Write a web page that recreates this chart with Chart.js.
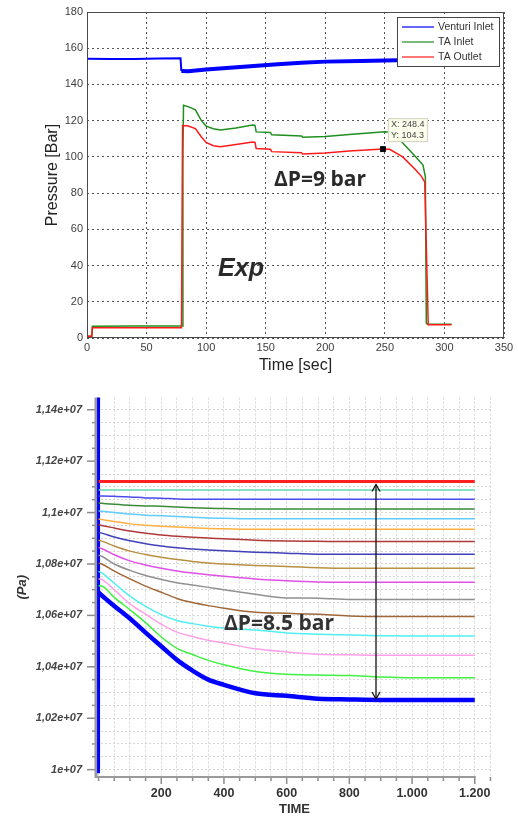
<!DOCTYPE html>
<html>
<head>
<meta charset="utf-8">
<script src="https://cdn.jsdelivr.net/npm/chart.js@4.4.0/dist/chart.umd.min.js"></script>
<style>
  html, body { margin: 0; padding: 0; background: #fff; }
  canvas { display: block; }
</style>
</head>
<body>
<canvas id="expChart" width="518" height="376"></canvas>
<canvas id="simChart" width="518" height="440"></canvas>
<script>
// ---- experiment (top) ----
const ventT = [0, 20, 40, 60, 78.5, 79.2, 85, 100, 120, 140, 160, 180, 200, 230, 260, 306];
const ventP = [154.2, 154.0, 154.1, 154.3, 154.5, 147.4, 147.3, 148.2, 149.2, 150.2, 151.2, 152.0, 152.6, 153.0, 153.4, 154.0];

const inletT = [0, 4, 4.5, 40, 79.8, 80.5, 81, 86, 91, 96, 100, 106, 112, 125, 139, 141, 142, 154, 155, 180, 181, 200, 220, 250, 258, 262, 266, 276, 282, 284, 284.8, 286, 306];
const inletP = [1.0, 1.0, 6.5, 6.6, 6.6, 100, 128.5, 127.5, 126.0, 120, 117.0, 115.5, 114.8, 116.0, 117.6, 117.4, 113.8, 113.5, 112.2, 111.6, 110.8, 111.3, 112.3, 113.9, 113.5, 110, 107, 100, 95.5, 89, 8, 7.6, 7.6];

const outletT = [0, 4, 4.5, 40, 79.3, 80.2, 85, 91, 96, 100, 106, 112, 125, 139, 141, 142, 154, 155, 180, 181, 200, 220, 248.4, 254, 265, 276, 281, 283.5, 286.4, 306];
const outletP = [1.0, 1.0, 5.7, 5.6, 5.6, 117.3, 117.0, 115.6, 111, 108, 106.2, 105.6, 106.8, 108.2, 108.0, 104.6, 104.2, 102.9, 102.3, 101.6, 102.2, 103.2, 104.3, 104.2, 100, 92.8, 89, 86, 7.3, 7.3];

const tipT = [248.4];
const tipP = [104.3];
const expLabels = ['Venturi Inlet', 'TA Inlet', 'TA Outlet'];

// ---- simulation (bottom) ----
const simT = [0, 10, 50, 100, 150, 200, 250, 300, 350, 400, 500, 600, 700, 800, 900, 1000, 1100, 1200];
const p01 = [1.1121e7, 1.1121e7, 1.1121e7, 1.1121e7, 1.1121e7, 1.1121e7, 1.1121e7, 1.1121e7, 1.1121e7, 1.1121e7, 1.1121e7, 1.1121e7, 1.1121e7, 1.1121e7, 1.1121e7, 1.1121e7, 1.1121e7, 1.1121e7];
const p02 = [1.1088e7, 1.1088e7, 1.1088e7, 1.1088e7, 1.1088e7, 1.1088e7, 1.1088e7, 1.1088e7, 1.1088e7, 1.1088e7, 1.1088e7, 1.1088e7, 1.1088e7, 1.1088e7, 1.1088e7, 1.1088e7, 1.1088e7, 1.1088e7];
const p03 = [1.1064e7, 1.1064e7, 1.1063e7, 1.1061e7, 1.1057e7, 1.1056e7, 1.1053e7, 1.1052e7, 1.1052e7, 1.1052e7, 1.1052e7, 1.1052e7, 1.1052e7, 1.1052e7, 1.1052e7, 1.1052e7, 1.1052e7, 1.1052e7];
const p04 = [1.1037e7, 1.1036e7, 1.1032e7, 1.1028e7, 1.1026e7, 1.1025e7, 1.1022e7, 1.1019e7, 1.1017e7, 1.1016e7, 1.1014e7, 1.1014e7, 1.1014e7, 1.1014e7, 1.1014e7, 1.1014e7, 1.1014e7, 1.1014e7];
const p05 = [1.1006e7, 1.1005e7, 1.1000e7, 1.0994e7, 1.0990e7, 1.0988e7, 1.0985e7, 1.0982e7, 1.0979e7, 1.0978e7, 1.0976e7, 1.0976e7, 1.0976e7, 1.0976e7, 1.0976e7, 1.0976e7, 1.0976e7, 1.0976e7];
const p06 = [1.0975e7, 1.0973e7, 1.0965e7, 1.0956e7, 1.0951e7, 1.0947e7, 1.0944e7, 1.0941e7, 1.0938e7, 1.0937e7, 1.0935e7, 1.0935e7, 1.0935e7, 1.0935e7, 1.0935e7, 1.0935e7, 1.0935e7, 1.0935e7];
const p07 = [1.0953e7, 1.0950e7, 1.0940e7, 1.0928e7, 1.0920e7, 1.0913e7, 1.0908e7, 1.0904e7, 1.0901e7, 1.0898e7, 1.0892e7, 1.0889e7, 1.0888e7, 1.0887e7, 1.0887e7, 1.0887e7, 1.0887e7, 1.0887e7];
const p08 = [1.0923e7, 1.0920e7, 1.0905e7, 1.0890e7, 1.0879e7, 1.0870e7, 1.0863e7, 1.0858e7, 1.0854e7, 1.0851e7, 1.0846e7, 1.0842e7, 1.0838e7, 1.0838e7, 1.0838e7, 1.0838e7, 1.0838e7, 1.0838e7];
const p09 = [1.0892e7, 1.0889e7, 1.0870e7, 1.0850e7, 1.0837e7, 1.0826e7, 1.0817e7, 1.0810e7, 1.0804e7, 1.0800e7, 1.0794e7, 1.0790e7, 1.0785e7, 1.0783e7, 1.0783e7, 1.0783e7, 1.0783e7, 1.0783e7];
const p10 = [1.0864e7, 1.0860e7, 1.0836e7, 1.0812e7, 1.0796e7, 1.0783e7, 1.0773e7, 1.0765e7, 1.0758e7, 1.0752e7, 1.0742e7, 1.0735e7, 1.0730e7, 1.0729e7, 1.0729e7, 1.0729e7, 1.0729e7, 1.0729e7];
const p11 = [1.0834e7, 1.0830e7, 1.0800e7, 1.0775e7, 1.0755e7, 1.0740e7, 1.0727e7, 1.0718e7, 1.0709e7, 1.0700e7, 1.0682e7, 1.0668e7, 1.0667e7, 1.0662e7, 1.0662e7, 1.0662e7, 1.0662e7, 1.0662e7];
const p12 = [1.0803e7, 1.0800e7, 1.0772e7, 1.0742e7, 1.0714e7, 1.0690e7, 1.0666e7, 1.0650e7, 1.0638e7, 1.0628e7, 1.0612e7, 1.0608e7, 1.0604e7, 1.0598e7, 1.0596e7, 1.0596e7, 1.0596e7, 1.0596e7];
const p13 = [1.0771e7, 1.0765e7, 1.0725e7, 1.0675e7, 1.0635e7, 1.0603e7, 1.0580e7, 1.0568e7, 1.0558e7, 1.0551e7, 1.0543e7, 1.0532e7, 1.0527e7, 1.0524e7, 1.0521e7, 1.0520e7, 1.0520e7, 1.0520e7];
const p14 = [1.0742e7, 1.0740e7, 1.0700e7, 1.0645e7, 1.0605e7, 1.0566e7, 1.0535e7, 1.0518e7, 1.0503e7, 1.0493e7, 1.0470e7, 1.0458e7, 1.0449e7, 1.0447e7, 1.0445e7, 1.0445e7, 1.0445e7, 1.0445e7];
const p15 = [1.0715e7, 1.0714e7, 1.0670e7, 1.0622e7, 1.0572e7, 1.0516e7, 1.0472e7, 1.0448e7, 1.0425e7, 1.0408e7, 1.0382e7, 1.0371e7, 1.0368e7, 1.0366e7, 1.0360e7, 1.0357e7, 1.0357e7, 1.0357e7];
const p16 = [1.0690e7, 1.0678e7, 1.0637e7, 1.0588e7, 1.0533e7, 1.0480e7, 1.0427e7, 1.0385e7, 1.0350e7, 1.0330e7, 1.0297e7, 1.0287e7, 1.0276e7, 1.0273e7, 1.0271e7, 1.0271e7, 1.0271e7, 1.0271e7];
const initT = [0, 0];
const initP = [9.986e6, 1.16e7];

const simXMajor = [200, 400, 600, 800, 1000, 1200];
const simXLabels = ['200', '400', '600', '800', '1.000', '1.200'];
const simYMajor = [1.0e7, 1.02e7, 1.04e7, 1.06e7, 1.08e7, 1.1e7, 1.12e7, 1.14e7];
const simYLabels = ['1e+07', '1,02e+07', '1,04e+07', '1,06e+07', '1,08e+07', '1,1e+07', '1,12e+07', '1,14e+07'];

const simSeries = [p01, p02, p03, p04, p05, p06, p07, p08, p09, p10, p11, p12, p13, p14, p15, p16];
const simColors = ['#ff2020', '#60d8b0', '#4a4af0', '#3a8a3a', '#60ccff', '#ffb040', '#b03838', '#4040b8',
                   '#b89040', '#e050e8', '#909090', '#a06838', '#50eef0', '#ffa0e8', '#40f040', '#0000ff'];
const simWidths = [3, 1.5, 1.5, 1.5, 1.5, 1.5, 1.5, 1.5, 1.5, 1.5, 1.5, 1.5, 1.5, 1.5, 1.5, 4.5];

const arrowTime = 885;

function pts(xs, ys) { return xs.map((x, i) => ({ x: x, y: ys[i] })); }

const FONT = 'Liberation Sans, Arial, sans-serif';

// ---- top chart decorations: box, legend, datatip, texts ----
const expDeco = {
  id: 'expDeco',
  afterDatasetsDraw(chart) {
    const { ctx, chartArea: a, scales: { x, y } } = chart;
    ctx.save();
    ctx.strokeStyle = '#4a4a4a';
    ctx.lineWidth = 1;
    ctx.strokeRect(a.left + 0.5, a.top + 0.5, a.right - a.left - 1, a.bottom - a.top - 1);

    // legend
    const lx = a.right - 107, ly = a.top + 5;
    ctx.fillStyle = '#fff';
    ctx.fillRect(lx, ly, 102, 49);
    ctx.strokeStyle = '#444';
    ctx.strokeRect(lx + 0.5, ly + 0.5, 102, 49);
    ctx.font = '10.5px ' + FONT;
    ctx.textBaseline = 'middle';
    chart.data.datasets.slice(0, 3).forEach((ds, i) => {
      const ry = ly + 10 + i * 15;
      ctx.strokeStyle = ds.borderColor;
      ctx.lineWidth = 1.2;
      ctx.beginPath(); ctx.moveTo(lx + 5, ry); ctx.lineTo(lx + 37, ry); ctx.stroke();
      ctx.fillStyle = '#333';
      ctx.fillText(expLabels[i], lx + 41, ry);
    });

    // datatip
    const px = x.getPixelForValue(tipT[0]), py = y.getPixelForValue(tipP[0]);
    ctx.fillStyle = 'rgba(255,255,235,0.92)';
    ctx.fillRect(px + 5, py - 31, 39, 23);
    ctx.strokeStyle = '#d8d8c8';
    ctx.strokeRect(px + 5.5, py - 30.5, 39, 23);
    ctx.fillStyle = '#444';
    ctx.font = '9px ' + FONT;
    ctx.fillText('X: ' + tipT[0], px + 8, py - 25);
    ctx.fillText('Y: ' + tipP[0], px + 8, py - 14);

    // texts
    ctx.fillStyle = '#2a2a2a';
    ctx.textAlign = 'center';
    ctx.font = 'bold 21px "Open Sans", sans-serif';
    ctx.fillText('\u0394P=9 bar', x.getPixelForValue(195.5), y.getPixelForValue(87.3));
    ctx.textAlign = 'left';
    ctx.font = 'italic bold 25px ' + FONT;
    ctx.fillText('Exp', x.getPixelForValue(110), y.getPixelForValue(38.2));
    ctx.restore();
  }
};

new Chart(document.getElementById('expChart'), {
  type: 'line',
  data: {
    datasets: [
      { label: expLabels[0], data: pts(ventT, ventP), borderColor: '#0000ff', borderWidth: 2, order: 3,
        segment: { borderWidth: c => c.p0.parsed.x >= 79 ? 4 : 2 } },
      { label: expLabels[1], data: pts(inletT, inletP), borderColor: '#1f8f1f', borderWidth: 1.5, order: 2 },
      { label: expLabels[2], data: pts(outletT, outletP), borderColor: '#ff1a1a', borderWidth: 1.5, order: 1 },
      { label: 'tip', data: pts(tipT, tipP), showLine: false, pointStyle: 'rect', pointRadius: 3.5,
        pointBackgroundColor: '#000', pointBorderColor: '#000', order: 0 }
    ]
  },
  options: {
    responsive: false,
    animation: false,
    elements: { point: { radius: 0 }, line: { tension: 0 } },
    layout: { padding: { left: 0, right: 14, top: 12, bottom: 0 } },
    plugins: { legend: { display: false }, tooltip: { enabled: false } },
    scales: {
      x: {
        type: 'linear', min: 0, max: 350,
        afterFit: s => { s.height = 38; },
        ticks: { stepSize: 50, padding: 3, color: '#404040', font: { family: FONT, size: 11 }, maxRotation: 0 },
        grid: { color: '#555', lineWidth: 1, drawTicks: false },
        border: { display: false, dash: [2, 3] },
        title: { display: true, text: 'Time [sec]', color: '#222', font: { family: FONT, size: 16 }, padding: { top: 0, bottom: 1 } }
      },
      y: {
        min: 0, max: 180,
        afterFit: s => { s.width = 87; },
        ticks: { stepSize: 20, padding: 4, color: '#404040', font: { family: FONT, size: 11 } },
        grid: { color: '#555', lineWidth: 1, drawTicks: false },
        border: { display: false, dash: [2, 3] },
        title: { display: true, text: 'Pressure [Bar]', color: '#222', font: { family: FONT, size: 16 }, padding: { top: 43, bottom: 0 } }
      }
    }
  },
  plugins: [expDeco]
});

// ---- bottom chart decorations: axes, tick marks, arrow, text ----
const simDeco = {
  id: 'simDeco',
  beforeDatasetsDraw(chart) {
    const { ctx, chartArea: a, scales: { x, y } } = chart;
    ctx.save();
    ctx.strokeStyle = '#8c8c8c';
    ctx.lineWidth = 1.5;
    x.ticks.forEach(t => {
      const px = x.getPixelForValue(t.value);
      const len = simXMajor.includes(t.value) ? 7 : 4;
      ctx.beginPath(); ctx.moveTo(px, a.bottom); ctx.lineTo(px, a.bottom + len); ctx.stroke();
    });
    y.ticks.forEach(t => {
      const py = y.getPixelForValue(t.value);
      const major = simYMajor.some(v => Math.abs(v - t.value) < 1);
      ctx.beginPath(); ctx.moveTo(a.left, py); ctx.lineTo(a.left - (major ? 10 : 5), py); ctx.stroke();
    });
    ctx.lineWidth = 3;
    ctx.strokeStyle = '#9a9a9a';
    ctx.beginPath(); ctx.moveTo(a.left - 1, a.top); ctx.lineTo(a.left - 1, a.bottom + 1); ctx.stroke();
    ctx.lineWidth = 2;
    ctx.beginPath(); ctx.moveTo(a.left - 2, a.bottom); ctx.lineTo(x.getPixelForValue(1200) + 1, a.bottom); ctx.stroke();
    ctx.restore();
  },
  afterDatasetsDraw(chart) {
    const { ctx, scales: { x, y } } = chart;
    ctx.save();
    const ax = x.getPixelForValue(arrowTime);
    const y1 = y.getPixelForValue(p01[p01.length - 1]) + 3;
    const y2 = y.getPixelForValue(p16[p16.length - 1]) - 1;
    ctx.strokeStyle = '#111';
    ctx.lineWidth = 1.3;
    ctx.beginPath(); ctx.moveTo(ax, y1); ctx.lineTo(ax, y2); ctx.stroke();
    ctx.beginPath();
    ctx.moveTo(ax - 4, y1 + 7); ctx.lineTo(ax, y1); ctx.lineTo(ax + 4, y1 + 7);
    ctx.moveTo(ax - 4, y2 - 7); ctx.lineTo(ax, y2); ctx.lineTo(ax + 4, y2 - 7);
    ctx.stroke();

    ctx.fillStyle = '#333';
    ctx.font = 'bold 21px "Open Sans", sans-serif';
    ctx.textBaseline = 'middle';
    ctx.textAlign = 'left';
    ctx.fillText('\u0394P=8.5 bar', x.getPixelForValue(400), y.getPixelForValue(1.0565e7));
    ctx.restore();
  }
};

const simDatasets = simSeries.map((s, i) => ({
  label: 'p' + (i + 1),
  data: pts(simT, s),
  borderColor: simColors[i],
  borderWidth: simWidths[i],
  cubicInterpolationMode: 'monotone',
  order: (i === 0 || i === 15) ? 0 : 1
}));
simDatasets.push({ label: 'init', data: pts(initT, initP), borderColor: '#0000ff', borderWidth: 3, order: 2 });

new Chart(document.getElementById('simChart'), {
  type: 'line',
  data: { datasets: simDatasets },
  options: {
    responsive: false,
    animation: false,
    elements: { point: { radius: 0 } },
    layout: { padding: { left: 0, right: 26, top: 4, bottom: 0 } },
    plugins: { legend: { display: false }, tooltip: { enabled: false } },
    scales: {
      x: {
        type: 'linear', min: -5, max: 1255,
        afterFit: s => { s.height = 39; },
        afterBuildTicks: s => {
          const t = [];
          for (let v = 0; v <= 1250; v += 50) t.push({ value: v });
          s.ticks = t;
        },
        ticks: {
          autoSkip: false, maxRotation: 0, padding: 9.5, color: '#333',
          font: { family: FONT, size: 12.5, weight: 'bold' },
          callback: v => { const i = simXMajor.indexOf(v); return i >= 0 ? simXLabels[i] : ''; }
        },
        grid: { color: '#d6d6d6', lineWidth: 1, drawTicks: false },
        border: { display: false, dash: [2, 2] },
        title: { display: true, text: 'TIME', color: '#333', font: { family: FONT, size: 13, weight: 'bold', lineHeight: 1 }, padding: { top: 0, bottom: 0 } }
      },
      y: {
        min: 9.9714e6, max: 1.14472e7,
        afterFit: s => { s.width = 97; },
        afterBuildTicks: s => {
          const t = [];
          for (let k = 0; k <= 28; k++) t.push({ value: 1e7 + k * 5e4 });
          s.ticks = t;
        },
        ticks: {
          autoSkip: false, padding: 15, color: '#444',
          font: { family: FONT, size: 11, weight: 'bold', style: 'italic' },
          callback: v => { const i = simYMajor.findIndex(m => Math.abs(m - v) < 1); return i >= 0 ? simYLabels[i] : ''; }
        },
        grid: { color: '#d6d6d6', lineWidth: 1, drawTicks: false },
        border: { display: false, dash: [2, 2] },
        title: { display: true, text: '(Pa)', color: '#333', font: { family: FONT, size: 13, weight: 'bold', style: 'italic' }, padding: { top: 15, bottom: 0 } }
      }
    }
  },
  plugins: [simDeco]
});
</script>
</body>
</html>
